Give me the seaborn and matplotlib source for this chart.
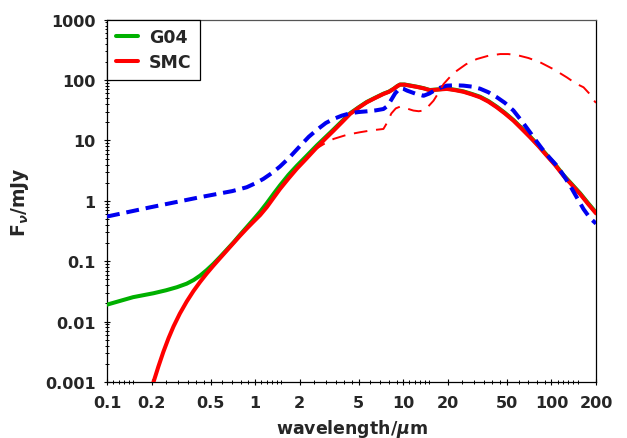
import numpy as np
import matplotlib
matplotlib.use("Agg")
import matplotlib.pyplot as plt
from matplotlib.ticker import FixedLocator, FixedFormatter, LogLocator, NullFormatter
import seaborn as sns

# Model SEDs: wavelength in micron, flux density in mJy
g04_wave = [0.1, 0.15, 0.206, 0.25, 0.296, 0.345, 0.385, 0.425, 0.47, 0.522, 0.58, 0.643,
            0.714, 0.791, 0.88, 0.973, 1.08, 1.2, 1.33, 1.47, 1.68, 1.91, 2.2, 2.61, 3.0,
            3.38, 3.85, 4.37, 5.0, 5.67, 6.4, 7.34, 8.0, 8.58, 9.1, 9.5, 10.2, 11.1, 12.4,
            13.7, 15.1, 17.0, 19.7, 22.5, 25.5, 29.0, 33.0, 37.5, 42.8, 48.5, 55.4, 63.0,
            71.8, 82.0, 93.0, 106.0, 120.5, 137.0, 156.0, 176.0, 200.0]
g04_flux = [0.0191, 0.0254, 0.0295, 0.033, 0.0371, 0.0425, 0.049, 0.0578, 0.071, 0.0902,
            0.118, 0.155, 0.205, 0.275, 0.37, 0.49, 0.66, 0.92, 1.3, 1.8, 2.7, 3.8, 5.4,
            8.3, 11.5, 15.2, 20.8, 28.2, 35.5, 43.5, 50.5, 59.5, 64.5, 71.5, 79.5, 84.5,
            84.5, 81.5, 77.5, 73.5, 68.5, 70.0, 72.5, 69.0, 65.0, 59.0, 53.0, 45.0, 36.2,
            28.7, 21.8, 16.0, 11.6, 8.2, 5.75, 4.0, 2.68, 1.9, 1.34, 0.93, 0.64]

smc_wave = [0.2, 0.206, 0.222, 0.24, 0.26, 0.281, 0.31, 0.345, 0.383, 0.425, 0.47, 0.522,
            0.58, 0.643, 0.714, 0.791, 0.88, 0.973, 1.08, 1.2, 1.33, 1.47, 1.68, 1.91, 2.2,
            2.61, 3.0, 3.38, 3.85, 4.37, 5.0, 5.67, 6.4, 7.34, 8.0, 8.58, 9.1, 9.5, 10.2,
            11.1, 12.4, 13.7, 15.1, 17.0, 19.7, 22.5, 25.5, 29.0, 33.0, 37.5, 42.8, 48.5,
            55.4, 63.0, 71.8, 82.0, 93.0, 106.0, 120.5, 137.0, 156.0, 176.0, 200.0]
smc_flux = [0.00075, 0.001, 0.00179, 0.00315, 0.0053, 0.0083, 0.01356, 0.0215, 0.032,
            0.0455, 0.0622, 0.0843, 0.113, 0.150, 0.20, 0.265, 0.35, 0.45, 0.58, 0.79, 1.12,
            1.57, 2.35, 3.4, 4.9, 7.7, 10.9, 14.5, 20.0, 27.5, 35.0, 42.9, 50.0, 58.9, 64.0,
            71.0, 79.0, 84.0, 84.0, 80.8, 77.0, 73.0, 68.0, 69.5, 71.5, 68.0, 64.0, 58.0,
            51.9, 44.0, 35.4, 28.0, 21.3, 15.6, 11.3, 8.0, 5.6, 3.9, 2.61, 1.85, 1.30, 0.90,
            0.62]

dust_wave = [0.1, 0.195, 0.425, 0.7, 0.877, 1.0, 1.136, 1.3, 1.47, 1.7, 2.0, 2.3, 2.61, 3.0,
             3.38, 3.85, 4.37, 5.0, 5.67, 6.5, 7.34, 7.8, 8.2, 8.8, 9.5, 10.0, 10.6, 12.0,
             13.7, 15.0, 16.0, 17.8, 19.7, 22.5, 25.5, 29.0, 33.0, 37.5, 42.8, 48.5, 55.4,
             63.0, 71.8, 79.0, 86.8, 97.0, 108.7, 120.0, 133.6, 148.0, 164.7, 182.0, 200.0]
dust_flux = [0.55, 0.78, 1.15, 1.45, 1.68, 1.95, 2.31, 2.9, 3.7, 5.2, 8.0, 11.5, 15.0, 19.5,
             22.7, 25.8, 28.2, 29.6, 30.4, 31.5, 33.2, 37.0, 45.0, 60.0, 74.0, 72.0, 67.0,
             60.0, 55.0, 60.0, 66.0, 75.0, 81.0, 82.0, 81.0, 78.0, 72.0, 63.0, 52.0, 42.0,
             31.3, 21.0, 13.6, 9.8, 7.2, 5.2, 3.83, 2.7, 1.79, 1.15, 0.73, 0.52, 0.42]

cold_wave = [2.46, 2.9, 3.38, 4.2, 5.11, 6.2, 7.34, 7.8, 8.3, 8.9, 9.5, 10.5, 11.7, 12.7,
             13.7, 14.8, 16.0, 17.3, 18.7, 20.6, 23.0, 26.5, 31.3, 37.5, 45.1, 51.0, 58.4,
             70.0, 83.9, 104.0, 127.0, 146.0, 164.7, 180.0, 192.0, 200.0]
cold_flux = [6.8, 8.7, 10.6, 12.5, 13.7, 14.8, 15.5, 20.0, 28.0, 34.0, 36.3, 34.0, 31.3,
             30.5, 31.3, 37.0, 45.6, 62.0, 86.0, 112.0, 143.0, 183.0, 223.0, 253.0, 270.0,
             270.0, 260.0, 232.0, 197.0, 150.0, 111.0, 88.0, 76.0, 60.0, 47.0, 42.0]

x_major = [0.1, 0.2, 0.5, 1, 2, 5, 10, 20, 50, 100, 200]
x_labels = ["0.1", "0.2", "0.5", "1", "2", "5", "10", "20", "50", "100", "200"]
y_major = [0.001, 0.01, 0.1, 1, 10, 100, 1000]
y_labels = ["0.001", "0.01", "0.1", "1", "10", "100", "1000"]

sns.set_style("ticks")
plt.rcParams["font.family"] = ["DejaVu Sans"]
plt.rcParams["font.weight"] = "bold"
plt.rcParams["mathtext.fontset"] = "dejavusans"

fig = plt.figure(figsize=(6.27, 4.39), dpi=100)
ax = fig.add_axes([0.1707, 0.1276, 0.7799, 0.8252])

green = "#00b000"
red = "#ff0000"
blue = "#0000f0"

sns.lineplot(x=g04_wave, y=g04_flux, ax=ax, color=green, lw=2.9, label="G04", zorder=3)
sns.lineplot(x=smc_wave, y=smc_flux, ax=ax, color=red, lw=2.9, label="SMC", zorder=4)
sns.lineplot(x=dust_wave, y=dust_flux, ax=ax, color=blue, lw=2.9,
             linestyle=(0, (3.2, 1.7)), zorder=5)
sns.lineplot(x=cold_wave, y=cold_flux, ax=ax, color=red, lw=1.4,
             linestyle=(0, (7, 4.5)), zorder=6)

ax.set_xscale("log")
ax.set_yscale("log")
ax.set_xlim(0.1, 200)
ax.set_ylim(0.001, 1000)

# x ticks: labelled 1-2-5 steps, finer unlabelled marks in between
minor_x = []
for d in [0.1, 1, 10, 100]:
    minor_x += [d * v for v in [1.1, 1.2, 1.3, 1.4, 1.5, 2.5, 3.0, 3.5, 4.0, 4.5, 6, 7, 8, 9]]
minor_x = [v for v in minor_x if v < 200]
ax.xaxis.set_major_locator(FixedLocator(x_major))
ax.xaxis.set_major_formatter(FixedFormatter(x_labels))
ax.xaxis.set_minor_locator(FixedLocator(minor_x))
ax.xaxis.set_minor_formatter(NullFormatter())
ax.yaxis.set_major_locator(FixedLocator(y_major))
ax.yaxis.set_major_formatter(FixedFormatter(y_labels))
ax.yaxis.set_minor_locator(LogLocator(base=10, subs=np.arange(2, 10), numticks=20))
ax.yaxis.set_minor_formatter(NullFormatter())

ax.tick_params(which="major", direction="inout", length=4.5, width=0.8, color="black",
               labelsize=11.5, pad=7)
ax.tick_params(which="minor", direction="inout", length=2.6, width=0.7, color="black")
ax.tick_params(axis="y", which="major", pad=6)
for lab in ax.get_xticklabels() + ax.get_yticklabels():
    lab.set_fontweight("bold")

for side in ["left", "right", "bottom", "top"]:
    ax.spines[side].set_visible(True)
    ax.spines[side].set_linewidth(0.9)
    ax.spines[side].set_color("black")
ax.spines["top"].set_color("#555555")

ax.set_xlabel(r"wavelength/$\mu$m", fontsize=12.5, fontweight="bold")
ax.set_ylabel(r"F$_\nu$/mJy", fontsize=13.5, fontweight="bold")
ax.xaxis.set_label_coords(0.5, -0.098)
ax.yaxis.set_label_coords(-0.155, 0.5)

leg = ax.legend(loc="upper left", borderaxespad=0, frameon=True, fancybox=False,
                edgecolor="black", framealpha=1, handlelength=1.3, handletextpad=0.6,
                borderpad=0.5, labelspacing=0.4, prop={"size": 12.5, "weight": "bold"})
leg.get_frame().set_linewidth(0.9)

fig.savefig("out.png", dpi=100)
